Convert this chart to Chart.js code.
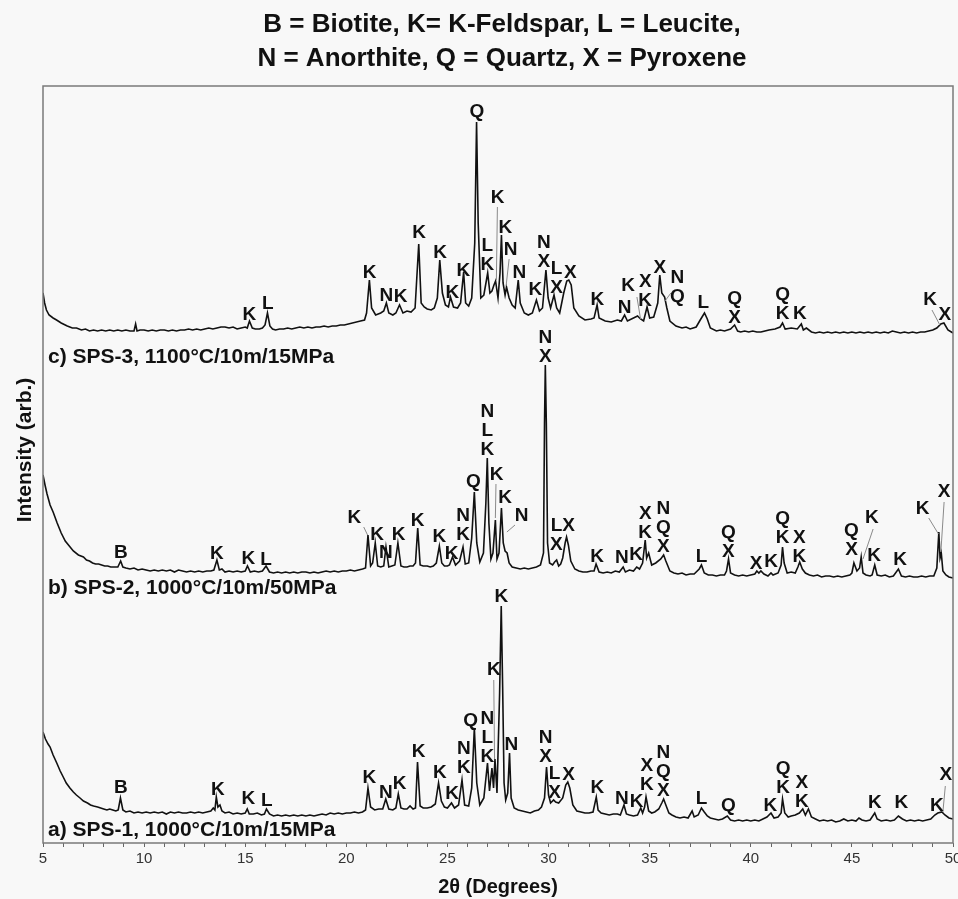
<!DOCTYPE html>
<html lang="en">
<head>
    <meta charset="UTF-8">
    <title>XRD patterns SPS-1/2/3</title>
    <style>
        body {
            margin: 0;
            background: #f8f8f8;
        }
        #xrd {
            display: block;
        }
    </style>
    <script src="https://cdn.jsdelivr.net/npm/chart.js"></script>
</head>
<body>
    <canvas id="xrd" width="958" height="899"></canvas>

    <script>
        // 2-theta / intensity pairs (stacked traces, arb. units)
        var sps1 = [[5.00,111],[5.12,104],[5.25,99],[5.35,96],[5.5,88],[5.68,80],[5.85,72],[6.00,66],[6.15,60],[6.33,55],[6.5,51],[6.65,48],[6.83,45],[7.0,42],[7.2,40],[7.35,38],[7.5,37],[7.7,36],[7.85,35],[8.0,34],[8.16,33],[8.3,34],[8.45,33],[8.6,32],[8.72,33],[8.83,45],[8.95,33],[9.1,31],[9.3,32],[9.5,30],[9.7,31],[9.9,30],[10.1,31],[10.3,30],[10.5,31],[10.7,30],[10.9,31],[11.1,29],[11.3,31],[11.5,30],[11.7,31],[11.9,30],[12.1,30],[12.3,31],[12.5,30],[12.7,31],[12.9,30],[13.1,31],[13.3,32],[13.42,35],[13.5,33],[13.57,46],[13.65,36],[13.75,38],[13.85,32],[14.0,30],[14.2,31],[14.4,29],[14.6,30],[14.8,29],[15.0,30],[15.1,34],[15.2,29],[15.4,29],[15.6,30],[15.8,28],[15.95,29],[16.05,34],[16.2,29],[16.4,27],[16.6,28],[16.8,27],[17.0,28],[17.2,27],[17.4,28],[17.6,27],[17.8,28],[18.0,27],[18.2,28],[18.4,27],[18.6,28],[18.8,29],[19.0,28],[19.2,30],[19.4,29],[19.6,30],[19.8,29],[20.0,30],[20.2,30],[20.4,31],[20.6,30],[20.8,31],[20.95,33],[21.07,55],[21.2,36],[21.4,33],[21.6,34],[21.8,34],[21.95,44],[22.1,34],[22.3,33],[22.45,35],[22.57,49],[22.7,35],[22.85,34],[23.0,34],[23.15,37],[23.3,34],[23.42,35],[23.52,81],[23.65,37],[23.8,35],[24.0,35],[24.2,36],[24.4,39],[24.56,60],[24.7,42],[24.85,36],[25.0,35],[25.2,40],[25.35,35],[25.55,38],[25.72,63],[25.85,38],[26.05,37],[26.2,55],[26.33,115],[26.45,60],[26.6,38],[26.8,45],[26.98,80],[27.08,52],[27.2,75],[27.28,55],[27.35,84],[27.45,50],[27.58,150],[27.66,237],[27.73,156],[27.8,60],[27.88,43],[27.98,50],[28.07,90],[28.15,45],[28.3,35],[28.5,33],[28.7,32],[28.9,31],[29.1,30],[29.3,32],[29.5,33],[29.65,36],[29.8,45],[29.9,76],[30.0,48],[30.1,40],[30.25,43],[30.35,41],[30.5,40],[30.7,45],[30.85,58],[30.95,61],[31.05,55],[31.2,38],[31.4,32],[31.6,31],[31.8,30],[32.0,30],[32.2,31],[32.36,46],[32.45,33],[32.6,30],[32.8,29],[33.0,28],[33.2,29],[33.4,29],[33.55,28],[33.73,38],[33.85,29],[34.0,28],[34.2,27],[34.4,28],[34.56,35],[34.65,30],[34.75,36],[34.82,46],[34.95,32],[35.1,30],[35.25,31],[35.45,34],[35.6,40],[35.69,44],[35.8,38],[35.95,30],[36.1,28],[36.3,26],[36.5,25],[36.7,26],[36.9,25],[37.1,32],[37.2,26],[37.4,28],[37.56,35],[37.7,31],[37.85,27],[38.0,25],[38.2,24],[38.4,23],[38.6,24],[38.84,27],[39.0,23],[39.2,22],[39.4,23],[39.6,22],[39.8,23],[40.0,22],[40.2,23],[40.4,22],[40.6,24],[40.8,26],[41.0,30],[41.15,25],[41.35,26],[41.5,30],[41.57,44],[41.68,30],[41.85,26],[42.0,27],[42.2,28],[42.4,30],[42.57,34],[42.7,28],[42.85,34],[43.0,26],[43.2,24],[43.4,22],[43.6,23],[43.8,22],[44.0,23],[44.2,21],[44.4,22],[44.6,24],[44.8,22],[45.0,23],[45.2,22],[45.35,25],[45.5,23],[45.7,22],[45.9,23],[46.13,30],[46.25,24],[46.45,22],[46.7,23],[46.9,22],[47.1,23],[47.3,27],[47.5,24],[47.7,22],[47.9,23],[48.1,22],[48.3,23],[48.5,22],[48.7,23],[48.9,24],[49.1,28],[49.25,30],[49.45,31],[49.6,28],[49.8,25],[50.0,24]];

        var sps2 = [[5.0,368],[5.1,358],[5.2,349],[5.35,338],[5.5,331],[5.7,320],[5.9,310],[6.1,302],[6.3,297],[6.5,292],[6.75,288],[7.0,286],[7.15,283],[7.3,282],[7.45,280],[7.6,279],[7.75,279],[7.9,278],[8.05,277],[8.2,277],[8.35,276],[8.5,276],[8.7,276],[8.84,282],[8.95,276],[9.1,275],[9.3,274],[9.5,275],[9.7,273],[9.9,274],[10.1,273],[10.3,272],[10.5,273],[10.7,272],[10.9,273],[11.1,272],[11.3,273],[11.5,271],[11.7,273],[11.9,272],[12.1,271],[12.3,272],[12.5,271],[12.7,272],[12.9,271],[13.1,272],[13.3,272],[13.45,273],[13.6,283],[13.72,273],[13.85,274],[14.0,271],[14.2,272],[14.4,271],[14.6,272],[14.8,271],[15.0,272],[15.11,277],[15.25,271],[15.45,272],[15.65,271],[15.85,272],[16.03,277],[16.2,271],[16.4,270],[16.6,271],[16.8,270],[17.0,271],[17.2,270],[17.4,271],[17.6,270],[17.8,271],[18.0,271],[18.2,270],[18.4,271],[18.6,270],[18.8,271],[19.0,272],[19.2,271],[19.4,272],[19.6,271],[19.8,272],[20.0,272],[20.2,273],[20.4,272],[20.6,273],[20.8,274],[20.95,275],[21.07,308],[21.2,277],[21.3,280],[21.43,300],[21.55,277],[21.7,276],[21.85,277],[21.96,296],[22.1,276],[22.25,277],[22.4,278],[22.55,300],[22.7,277],[22.85,276],[23.0,276],[23.15,277],[23.3,277],[23.42,280],[23.53,315],[23.65,278],[23.8,277],[24.0,277],[24.15,276],[24.3,277],[24.45,280],[24.6,297],[24.72,280],[24.85,277],[25.0,277],[25.1,278],[25.25,286],[25.4,278],[25.6,282],[25.77,296],[25.88,279],[26.05,280],[26.2,305],[26.33,351],[26.45,300],[26.6,281],[26.78,290],[26.9,340],[26.97,385],[27.05,320],[27.15,284],[27.25,290],[27.37,323],[27.45,284],[27.55,290],[27.67,335],[27.76,300],[27.85,292],[27.95,290],[28.05,280],[28.2,276],[28.4,275],[28.6,274],[28.8,275],[29.0,274],[29.2,275],[29.4,276],[29.6,278],[29.75,290],[29.8,420],[29.84,478],[29.89,420],[29.95,300],[30.05,280],[30.2,278],[30.3,281],[30.4,283],[30.5,277],[30.6,279],[30.7,285],[30.82,300],[30.89,306],[30.98,298],[31.1,282],[31.3,274],[31.5,272],[31.7,271],[31.9,271],[32.1,272],[32.25,272],[32.35,279],[32.5,271],[32.7,270],[32.9,271],[33.1,270],[33.3,272],[33.5,271],[33.69,276],[33.8,271],[34.0,273],[34.2,272],[34.36,276],[34.5,274],[34.65,280],[34.78,303],[34.85,285],[34.95,290],[35.1,278],[35.3,280],[35.55,284],[35.69,288],[35.8,282],[36.0,272],[36.2,270],[36.4,269],[36.6,270],[36.8,268],[37.0,269],[37.2,269],[37.45,274],[37.56,278],[37.7,270],[37.9,268],[38.1,268],[38.3,267],[38.5,268],[38.7,268],[38.8,272],[38.9,284],[39.0,270],[39.2,268],[39.4,267],[39.6,268],[39.8,267],[40.0,268],[40.2,269],[40.3,272],[40.4,270],[40.5,272],[40.65,269],[40.85,267],[41.0,270],[41.1,268],[41.35,270],[41.5,278],[41.57,296],[41.65,280],[41.8,270],[42.0,271],[42.2,270],[42.33,276],[42.42,281],[42.55,274],[42.7,270],[42.9,268],[43.1,267],[43.3,268],[43.5,266],[43.7,267],[43.9,267],[44.1,266],[44.3,267],[44.5,266],[44.7,267],[44.9,268],[45.0,270],[45.1,280],[45.25,272],[45.38,275],[45.46,286],[45.55,270],[45.7,268],[45.9,267],[46.0,268],[46.13,278],[46.25,268],[46.45,267],[46.65,268],[46.85,266],[47.05,267],[47.3,274],[47.45,267],[47.65,266],[47.85,267],[48.05,266],[48.25,266],[48.45,267],[48.65,266],[48.85,267],[49.05,267],[49.2,275],[49.3,311],[49.36,285],[49.42,290],[49.5,272],[49.65,268],[49.8,266],[50.0,265]];

        var sps3 = [[5.0,550],[5.08,540],[5.17,533],[5.3,528],[5.5,525],[5.67,523],[5.9,520],[6.2,517],[6.45,515],[6.66,515],[6.9,513],[7.1,514],[7.3,512],[7.5,513],[7.7,512],[7.9,513],[8.1,512],[8.3,513],[8.5,512],[8.7,513],[8.9,512],[9.1,513],[9.3,512],[9.5,512],[9.58,519],[9.65,512],[9.8,513],[10.0,513],[10.2,512],[10.4,513],[10.6,512],[10.8,513],[11.0,513],[11.2,512],[11.4,513],[11.6,512],[11.8,513],[12.0,513],[12.2,514],[12.4,513],[12.6,514],[12.8,513],[13.0,514],[13.2,515],[13.4,514],[13.6,515],[13.8,516],[14.0,516],[14.2,515],[14.4,516],[14.6,514],[14.8,515],[15.0,516],[15.1,515],[15.21,522],[15.35,515],[15.5,514],[15.7,514],[15.85,515],[15.98,518],[16.1,530],[16.22,517],[16.35,514],[16.5,513],[16.7,514],[16.9,514],[17.1,515],[17.3,514],[17.5,515],[17.7,516],[17.9,515],[18.1,516],[18.3,515],[18.5,516],[18.7,516],[18.9,517],[19.1,516],[19.3,517],[19.5,517],[19.7,518],[19.9,518],[20.1,519],[20.3,520],[20.5,521],[20.7,522],[20.9,523],[21.0,530],[21.14,563],[21.25,535],[21.45,528],[21.7,530],[21.85,532],[21.98,540],[22.1,530],[22.3,528],[22.45,530],[22.63,538],[22.8,530],[23.0,532],[23.2,531],[23.4,535],[23.58,599],[23.7,540],[23.85,536],[24.0,534],[24.2,533],[24.35,535],[24.5,545],[24.62,583],[24.75,550],[24.9,538],[25.05,536],[25.15,546],[25.3,536],[25.5,535],[25.65,540],[25.8,571],[25.9,540],[26.05,537],[26.2,545],[26.35,600],[26.44,721],[26.52,620],[26.65,545],[26.8,548],[26.99,570],[27.1,550],[27.2,552],[27.3,558],[27.38,562],[27.5,545],[27.6,570],[27.67,608],[27.75,560],[27.85,548],[27.92,556],[28.05,545],[28.2,538],[28.35,535],[28.5,563],[28.6,540],[28.8,530],[29.0,528],[29.2,530],[29.4,543],[29.55,532],[29.7,535],[29.87,573],[29.98,545],[30.1,535],[30.27,548],[30.4,535],[30.55,530],[30.75,550],[30.9,562],[31.0,563],[31.12,558],[31.25,535],[31.5,527],[31.8,523],[32.1,524],[32.25,525],[32.4,538],[32.5,525],[32.8,522],[33.1,521],[33.4,523],[33.6,522],[33.76,528],[33.9,522],[34.2,525],[34.4,527],[34.55,524],[34.7,522],[34.87,536],[35.0,525],[35.2,526],[35.4,540],[35.5,568],[35.6,550],[35.74,546],[35.85,535],[36.0,522],[36.3,517],[36.6,515],[36.8,516],[37.0,514],[37.3,516],[37.5,523],[37.71,530],[37.85,524],[38.0,515],[38.3,512],[38.5,513],[38.7,512],[39.0,514],[39.2,518],[39.35,512],[39.5,511],[39.7,512],[39.9,511],[40.1,512],[40.3,511],[40.5,511],[40.7,512],[40.9,513],[41.2,514],[41.45,516],[41.57,520],[41.7,514],[42.0,515],[42.3,514],[42.5,519],[42.6,513],[42.75,515],[43.0,511],[43.2,510],[43.4,511],[43.6,510],[43.8,511],[44.0,510],[44.2,511],[44.4,510],[44.6,511],[44.8,510],[45.0,511],[45.2,510],[45.4,511],[45.6,510],[45.8,511],[46.0,510],[46.2,511],[46.4,510],[46.6,511],[46.8,510],[47.0,512],[47.2,511],[47.4,510],[47.6,511],[47.8,510],[48.0,511],[48.2,510],[48.4,511],[48.6,511],[48.8,512],[49.0,513],[49.2,515],[49.4,519],[49.55,520],[49.75,513],[50.0,510]];

        // phase labels: [2theta, level of lowest letter, letters top-to-bottom]
        var peaksA = [[8.85,50,'B'],[13.65,48,'K'],[15.16,39,'K'],[16.07,37,'L'],[21.14,60,'K'],[21.96,45,'N'],[22.63,54,'K'],[23.58,86,'K'],[24.62,65,'K'],[25.23,44,'K'],[25.81,70,'NK'],[26.15,117,'Q'],[26.97,81,'NLK'],[27.29,168,'K'],[27.67,241,'K'],[28.16,93,'N'],[29.85,81,'NX'],[30.3,45,'LX'],[30.99,63,'X'],[32.41,50,'K'],[33.63,39,'N'],[34.36,36,'K'],[34.86,53,'XK'],[35.68,47,'NQX'],[37.56,39,'L'],[38.89,32,'Q'],[40.97,32,'K'],[41.6,50,'QK'],[42.52,36,'XK'],[46.13,35,'K'],[47.45,35,'K'],[49.2,32,'K'],[49.64,63,'X']];
        var peaksB = [[8.85,285,'B'],[13.6,284,'K'],[15.16,279,'K'],[16.03,278,'L'],[20.4,320,'K'],[21.52,303,'K'],[21.96,285,'N'],[22.59,303,'K'],[23.53,317,'K'],[24.6,301,'K'],[25.2,284,'K'],[25.77,303,'NK'],[26.28,356,'Q'],[26.97,388,'NLK'],[27.43,363,'K'],[27.85,340,'K'],[28.67,322,'N'],[29.84,481,'NX'],[30.39,293,'LX'],[30.99,312,'X'],[32.4,281,'K'],[33.63,280,'N'],[34.33,283,'K'],[34.78,305,'XK'],[35.68,291,'NQX'],[37.56,281,'L'],[38.89,286,'QX'],[40.26,274,'X'],[41.0,276,'K'],[41.57,300,'QK'],[42.4,281,'XK'],[44.98,288,'QX'],[45.99,320,'K'],[46.1,282,'K'],[47.38,278,'K'],[48.5,329,'K'],[49.56,346,'X']];
        var peaksC = [[15.21,523,'K'],[16.12,534,'L'],[21.15,565,'K'],[21.98,542,'N'],[22.68,541,'K'],[23.6,605,'K'],[24.64,585,'K'],[25.24,545,'K'],[25.79,567,'K'],[26.46,726,'Q'],[26.97,573,'LK'],[27.48,640,'K'],[27.87,610,'K'],[28.12,588,'N'],[28.56,565,'N'],[29.35,548,'K'],[29.77,576,'NX'],[30.4,550,'LX'],[31.08,565,'X'],[32.41,538,'K'],[33.76,530,'N'],[33.94,552,'K'],[34.78,537,'XK'],[35.5,570,'X'],[36.37,541,'NQ'],[37.65,535,'L'],[39.2,520,'QX'],[41.58,524,'QK'],[42.43,524,'K'],[48.87,538,'K'],[49.6,523,'X']];

        // leader lines from a label to its peak: [2theta1, level1, 2theta2, level2]
        var leaders = [[27.29,163,27.33,84],[49.62,57,49.5,31],
            [20.86,316,21.05,308],[27.4,359,27.37,325],[28.34,318,27.94,311],[46.05,314,45.55,284],[48.8,325,49.28,309],[49.56,341,49.4,291],
            [27.47,636,27.42,563],[28.05,584,27.9,557],[34.37,546,34.55,524],[36.05,550,35.76,542],[48.96,533,49.35,518]];

        var sampleNames = ['a) SPS-1, 1000°C/10m/15MPa', 'b) SPS-2, 1000°C/10m/50MPa', 'c) SPS-3, 1100°C/10m/15MPa'];
        var sampleLevels = [13, 255, 486];
        var titleLines = ['B = Biotite, K= K-Feldspar, L = Leucite,', 'N = Anorthite, Q = Quartz, X = Pyroxene'];

        var FONT = '"Liberation Sans", Arial, sans-serif';

        function toPoints(arr) {
            return arr.map(function (p) { return {x: p[0], y: p[1]}; });
        }

        var decorations = {
            id: 'decorations',
            beforeDraw: function (chart) {
                var ctx = chart.ctx;
                ctx.save();
                ctx.fillStyle = '#f8f8f8';
                ctx.fillRect(0, 0, chart.width, chart.height);
                ctx.restore();
            },
            afterDatasetsDraw: function (chart) {
                var ctx = chart.ctx, area = chart.chartArea;
                var xs = chart.scales.x, ys = chart.scales.y;
                ctx.save();

                // leader lines
                ctx.strokeStyle = '#8a8a8a';
                ctx.lineWidth = 1;
                leaders.forEach(function (l) {
                    ctx.beginPath();
                    ctx.moveTo(xs.getPixelForValue(l[0]), ys.getPixelForValue(l[1]));
                    ctx.lineTo(xs.getPixelForValue(l[2]), ys.getPixelForValue(l[3]));
                    ctx.stroke();
                });

                // phase letters
                ctx.fillStyle = '#111';
                ctx.font = 'bold 19px ' + FONT;
                ctx.textAlign = 'center';
                ctx.textBaseline = 'alphabetic';
                [peaksA, peaksB, peaksC].forEach(function (set) {
                    set.forEach(function (p) {
                        var px = xs.getPixelForValue(p[0]);
                        var py = ys.getPixelForValue(p[1]);
                        var letters = p[2].split('').reverse();
                        letters.forEach(function (c, i) {
                            ctx.fillText(c, px, py - i * 19);
                        });
                    });
                });

                // sample names
                ctx.font = 'bold 21px ' + FONT;
                ctx.textAlign = 'left';
                ctx.textBaseline = 'middle';
                sampleNames.forEach(function (name, i) {
                    ctx.fillText(name, area.left + 5, ys.getPixelForValue(sampleLevels[i]));
                });

                // frame
                ctx.strokeStyle = '#7a7a7a';
                ctx.lineWidth = 1.5;
                ctx.strokeRect(area.left, area.top, area.right - area.left, area.bottom - area.top);

                // title
                ctx.fillStyle = '#111';
                ctx.font = 'bold 26px ' + FONT;
                ctx.textAlign = 'center';
                var cx = (area.left + area.right) / 2 + 4;
                ctx.fillText(titleLines[0], cx, 25);
                ctx.fillText(titleLines[1], cx, 59);

                // y axis title
                ctx.font = 'bold 21px ' + FONT;
                ctx.translate(25, 450);
                ctx.rotate(-Math.PI / 2);
                ctx.fillText('Intensity (arb.)', 0, 0);
                ctx.restore();
            }
        };

        var ctx = document.getElementById('xrd').getContext('2d');
        var xrdChart = new Chart(ctx, {
            type: 'line',
            data: {
                datasets: [sps1, sps2, sps3].map(function (s) {
                    return {
                        data: toPoints(s),
                        borderColor: '#111',
                        borderWidth: 1.6,
                        pointRadius: 0,
                        tension: 0,
                        fill: false
                    };
                })
            },
            options: {
                responsive: false,
                animation: false,
                layout: { padding: { top: 86, right: 5, left: 0, bottom: 0 } },
                plugins: {
                    legend: { display: false },
                    tooltip: { enabled: false }
                },
                scales: {
                    x: {
                        type: 'linear',
                        min: 5,
                        max: 50,
                        afterFit: function (scale) {
                            scale.height = 56;
                            scale.paddingLeft = 0;
                            scale.paddingRight = 0;
                        },
                        border: { display: false },
                        grid: {
                            display: true,
                            drawOnChartArea: false,
                            drawTicks: true,
                            tickLength: 4,
                            tickColor: '#666'
                        },
                        ticks: {
                            stepSize: 1,
                            maxTicksLimit: 100,
                            autoSkip: false,
                            maxRotation: 0,
                            padding: 3,
                            color: '#333',
                            font: { family: FONT, size: 15 },
                            callback: function (v) { return v % 5 === 0 ? v : ''; }
                        },
                        title: {
                            display: true,
                            text: '2θ (Degrees)',
                            color: '#111',
                            font: { family: FONT, size: 20, weight: 'bold' },
                            padding: { top: 0, bottom: 0 }
                        }
                    },
                    y: {
                        min: 0,
                        max: 757,
                        afterFit: function (scale) { scale.width = 43; },
                        border: { display: false },
                        grid: { display: false },
                        ticks: { display: false }
                    }
                }
            },
            plugins: [decorations]
        });
    </script>
</body>
</html>
